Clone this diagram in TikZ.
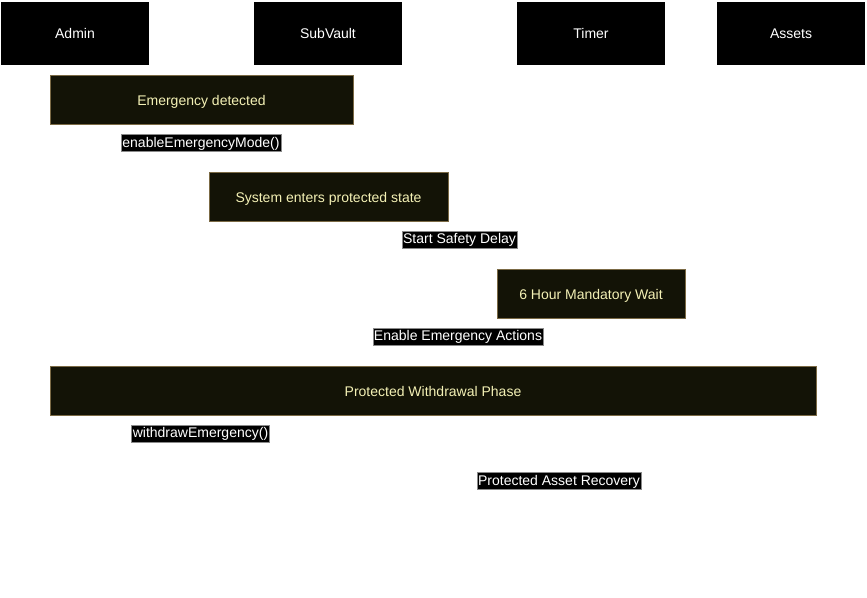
\documentclass[tikz,border=0pt]{standalone}
\usepackage{fontspec}
\setmainfont{Liberation Sans}
\usepackage{xcolor}
\usetikzlibrary{positioning}
\definecolor{notefill}{HTML}{131306}
\definecolor{noteline}{HTML}{7B6A45}
\definecolor{notetext}{HTML}{F4F1B5}
\definecolor{tagline}{HTML}{8A8A8A}

\begin{document}
\begin{tikzpicture}[x=1pt, y=-1pt, font=\fontsize{14}{16}\selectfont,
	actor/.style={rectangle, fill=black, text=white, inner sep=0pt,
				text height=12pt, text depth=2pt,
				minimum width=148pt, minimum height=63pt},
	note/.style={rectangle, fill=notefill, draw=noteline, text=notetext,
				inner sep=0pt, text height=13.5pt, text depth=1pt,
				minimum height=49pt},
	tag/.style={rectangle, fill=black, draw=tagline, text=white, inner sep=1.2pt,
				text height=11.5pt, text depth=3pt},
]
\useasboundingbox (0,0) rectangle (867,597);
\node [actor] (admin)  at (75,33)  {Admin};
\node [actor] (vault)  at (328,33) {SubVault};
\node [actor] (timer)  at (591,33) {Timer};
\node [actor] (assets) at (791,33) {Assets};
%
\node [note, minimum width=303pt] (detect)  at (201.5,99.5) {Emergency detected};
\node [tag]  (enable) at (201,143) {enableEmergencyMode()};
\node [note, minimum width=239pt] (protect) at (328.5,196.5) {System enters protected state};
\node [tag]  (delay)  at (459.5,239.5) {Start Safety Delay};
\node [note, minimum width=188pt] (wait)    at (591,293.5) {6 Hour Mandatory Wait};
\node [tag]  (actions) at (458,336.5) {Enable Emergency Actions};
\node [note, minimum width=766pt] (phase)   at (433,390.5) {Protected Withdrawal Phase};
\node [tag]  (withdraw) at (200.5,433.5) {withdrawEmergency()};
\node [tag]  (recover)  at (559,481) {Protected Asset Recovery};
\end{tikzpicture}
\end{document}
